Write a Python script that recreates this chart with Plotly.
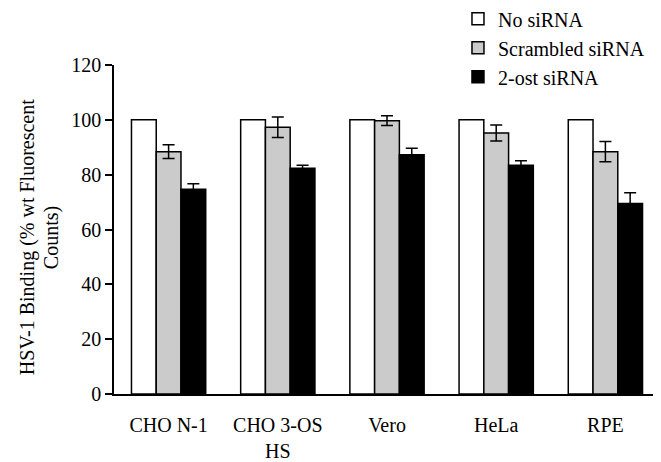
import plotly.graph_objects as go

categories = ["CHO N-1", "CHO 3-OS<br>HS", "Vero", "HeLa", "RPE"]
no_sirna = [100, 100, 100, 100, 100]
scrambled = [88.4, 97.3, 99.7, 95.2, 88.4]
scrambled_err = [2.5, 3.7, 1.8, 2.9, 3.7]
ost2 = [74.7, 82.3, 87.3, 83.4, 69.5]
ost2_err = [2.0, 1.1, 2.3, 1.7, 3.9]
y_ticks = [0, 20, 40, 60, 80, 100, 120]
y_title_lines = ["HSV-1 Binding (% wt Fluorescent", "Counts)"]

font = "Liberation Serif, Times New Roman, serif"
line = dict(color="black", width=1.5)

fig = go.Figure()
fig.add_trace(go.Bar(name="No siRNA", x=categories, y=no_sirna,
                     marker=dict(color="white", line=line)))
fig.add_trace(go.Bar(name="Scrambled siRNA", x=categories, y=scrambled,
                     marker=dict(color="#cbcbcb", line=line),
                     error_y=dict(type="data", array=scrambled_err, color="black",
                                  thickness=1.5, width=6)))
fig.add_trace(go.Bar(name="2-ost siRNA", x=categories, y=ost2,
                     marker=dict(color="black", line=line),
                     error_y=dict(type="data", array=ost2_err, color="black",
                                  thickness=1.5, width=6)))

# y-axis title, two centred lines
for text, xpos, ypos in zip(y_title_lines, [-0.158, -0.114], [0.476, 0.476]):
    fig.add_annotation(text=text, xref="paper", yref="paper", x=xpos, y=ypos,
                       xanchor="center", yanchor="middle", textangle=-90,
                       showarrow=False, font=dict(family=font, size=20, color="black"))

# page body has an 8px default margin, so the figure is 8px smaller
fig.update_layout(
    width=653, height=454,
    margin=dict(l=106, r=1, t=57, b=68, autoexpand=False),
    paper_bgcolor="white", plot_bgcolor="white",
    barmode="group", bargap=0.32, bargroupgap=0,
    font=dict(family=font, size=20, color="black"),
    legend=dict(x=0.63, y=1.2, xanchor="left", yanchor="top",
                font=dict(family=font, size=20, color="black"),
                tracegroupgap=0, bgcolor="rgba(0,0,0,0)"),
    xaxis=dict(type="category", range=[-0.5, 4.5], showline=True,
               linecolor="black", linewidth=1.5, ticks="", showgrid=False,
               ticklabelstandoff=12,
               tickfont=dict(family=font, size=20)),
    yaxis=dict(range=[0, 120], tickvals=y_ticks, showline=True,
               linecolor="black", linewidth=1.5, ticks="outside", ticklen=7,
               tickwidth=1.5, tickcolor="black", showgrid=False, zeroline=False,
               tickfont=dict(family=font, size=20)),
)

fig.write_html("out.html")
